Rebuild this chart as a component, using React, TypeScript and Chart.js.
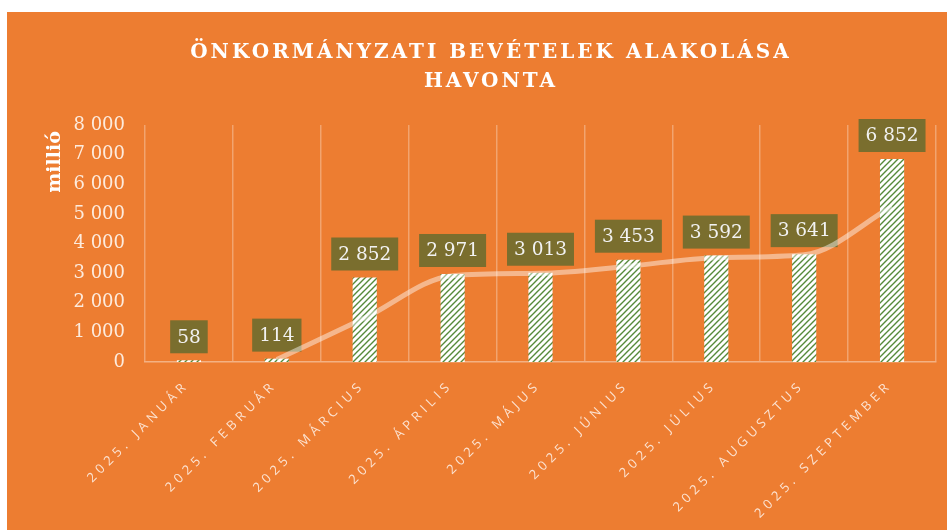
import React, { useEffect, useRef } from 'react';
import { Chart, registerables } from 'chart.js';

Chart.register(...registerables);

const titleLines = ['ÖNKORMÁNYZATI BEVÉTELEK ALAKOLÁSA', 'HAVONTA'];
const yAxisTitle = 'millió';
const categories = [
  '2025. JANUÁR',
  '2025. FEBRUÁR',
  '2025. MÁRCIUS',
  '2025. ÁPRILIS',
  '2025. MÁJUS',
  '2025. JÚNIUS',
  '2025. JÚLIUS',
  '2025. AUGUSZTUS',
  '2025. SZEPTEMBER',
];
const revenues = [58, 114, 2852, 2971, 3013, 3453, 3592, 3641, 6852];
// two-period moving-average trendline, as drawn in the picture
const trendValues: (number | null)[] = [null, 86, 1483, 2912, 2992, 3233, 3523, 3617, 5247];
const yMin = 0;
const yMax = 8000;
const yStep = 1000;

const fmt = (v: number) => {
  const s = Math.round(v).toString();
  return s.replace(/\B(?=(\d{3})+(?!\d))/g, ' ');
};

const W = 940;
const H = 518;

function makePattern(): CanvasPattern | string {
  const c = document.createElement('canvas');
  const s = 6;
  c.width = s;
  c.height = s;
  const g = c.getContext('2d');
  if (!g) return '#ffffff';
  g.fillStyle = '#ffffff';
  g.fillRect(0, 0, s, s);
  g.strokeStyle = '#568a3a';
  g.lineWidth = 1.4;
  g.beginPath();
  g.moveTo(-1, s + 1);
  g.lineTo(s + 1, -1);
  g.moveTo(-1, 1);
  g.lineTo(1, -1);
  g.moveTo(s - 1, s + 1);
  g.lineTo(s + 1, s - 1);
  g.stroke();
  const p = g.createPattern(c, 'repeat');
  return p || '#ffffff';
}

export default function App() {
  const ref = useRef<HTMLCanvasElement | null>(null);

  useEffect(() => {
    const canvas = ref.current;
    if (!canvas) return;

    const bgPlugin = {
      id: 'bgPlugin',
      beforeDraw(chart: any) {
        const ctx = chart.ctx;
        ctx.save();
        ctx.fillStyle = '#ED7D31';
        ctx.fillRect(0, 0, chart.width, chart.height);
        ctx.restore();
      },
      afterDraw(chart: any) {
        const ctx = chart.ctx;
        const xs = chart.scales.x;
        const area = chart.chartArea;
        ctx.save();
        // title
        ctx.fillStyle = '#ffffff';
        ctx.font = 'bold 20px "DejaVu Serif"';
        (ctx as any).letterSpacing = '3px';
        ctx.textAlign = 'center';
        ctx.textBaseline = 'middle';
        ctx.fillText(titleLines[0], 484, 41);
        ctx.fillText(titleLines[1], 484, 70);
        // y title
        (ctx as any).letterSpacing = '0px';
        ctx.save();
        ctx.translate(48, 150);
        ctx.rotate(-Math.PI / 2);
        ctx.font = 'bold 19px "DejaVu Serif"';
        ctx.fillText(yAxisTitle, 0, 0);
        ctx.restore();
        // x labels
        ctx.fillStyle = '#FCE3D2';
        ctx.font = '13px "Open Sans"';
        (ctx as any).letterSpacing = '4.5px';
        ctx.textAlign = 'right';
        ctx.textBaseline = 'middle';
        categories.forEach((lab, i) => {
          const x = xs.getPixelForValue(i);
          ctx.save();
          ctx.translate(x - 2, area.bottom + 21);
          ctx.rotate(-Math.PI / 4);
          ctx.fillText(lab, 0, 0);
          ctx.restore();
        });
        ctx.restore();
      },
      afterDatasetDraw(chart: any, args: any) {
        if (args.index !== 1) return;
        const ctx = chart.ctx;
        const meta = chart.getDatasetMeta(1);
        ctx.save();
        ctx.font = '18.5px "DejaVu Serif"';
        (ctx as any).letterSpacing = '0px';
        ctx.textAlign = 'center';
        ctx.textBaseline = 'middle';
        meta.data.forEach((el: any, i: number) => {
          const txt = fmt(revenues[i]);
          const tw = ctx.measureText(txt).width;
          const bw = tw + 14;
          const bh = 33;
          const bottom = el.y - 7;
          ctx.fillStyle = '#7A6E2E';
          ctx.fillRect(el.x - bw / 2, bottom - bh, bw, bh);
          ctx.fillStyle = '#F2F2F2';
          ctx.fillText(txt, el.x, bottom - bh / 2 + 1);
        });
        ctx.restore();
      },
    };

    const chart = new Chart(canvas, {
      type: 'bar',
      data: {
        labels: categories,
        datasets: [
          {
            type: 'line',
            label: 'Trend',
            data: trendValues,
            borderColor: 'rgba(255,255,255,0.45)',
            borderWidth: 5,
            pointRadius: 0,
            cubicInterpolationMode: 'monotone',
            fill: false,
            spanGaps: false,
          } as any,
          {
            type: 'bar',
            label: 'Bevétel',
            data: revenues,
            backgroundColor: makePattern() as any,
            borderWidth: 0,
            categoryPercentage: 1,
            barPercentage: 0.275,
          },
        ],
      },
      options: {
        responsive: false,
        animation: false,
        layout: { padding: { left: 0, right: 11, top: 113, bottom: 0 } },
        plugins: {
          legend: { display: false },
          title: { display: false },
          tooltip: { enabled: false },
        },
        scales: {
          x: {
            offset: true,
            grid: {
              display: true,
              offset: true,
              color: 'rgba(255,255,255,0.3)',
              lineWidth: 1.5,
              drawTicks: false,
            },
            border: { display: true, color: 'rgba(255,255,255,0.4)', width: 1.5 },
            ticks: { display: false },
            afterFit(scale: any) {
              scale.height = H - 350;
            },
          },
          y: {
            min: yMin,
            max: yMax,
            grid: { display: false, drawTicks: false },
            border: { display: false },
            ticks: {
              stepSize: yStep,
              padding: 20,
              color: '#FDEBDD',
              font: { family: '"DejaVu Serif"', size: 18 },
              callback: (v: any) => fmt(Number(v)),
            },
            afterFit(scale: any) {
              scale.width = 138;
            },
          },
        },
      },
      plugins: [bgPlugin],
    });

    return () => chart.destroy();
  }, []);

  return (
    <div style={{ position: 'absolute', left: 7, top: 12, width: W, height: H }}>
      <canvas ref={ref} width={W} height={H} style={{ display: 'block' }} />
    </div>
  );
}
